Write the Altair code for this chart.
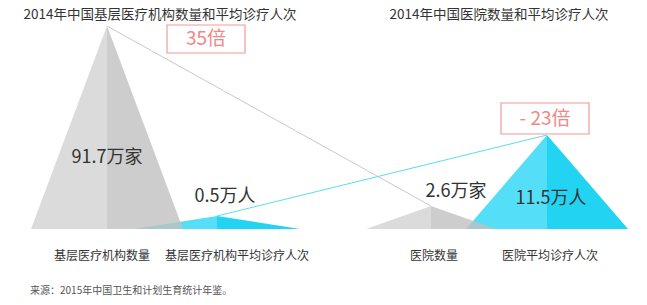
import altair as alt
import pandas as pd

# ---- data ----
categories = ["基层医疗机构数量", "基层医疗机构平均诊疗人次", "医院数量", "医院平均诊疗人次"]
values = [91.7, 0.5, 2.6, 11.5]
units = ["万家", "万人", "万家", "万人"]
drawn_heights = [203, 13, 23, 94]          # visual peak heights of the triangles
panel_titles = ["2014年中国基层医疗机构数量和平均诊疗人次", "2014年中国医院数量和平均诊疗人次"]
ratio_labels = ["35倍", "- 23倍"]
source_note = "来源：2015年中国卫生和计划生育统计年鉴。"

# ---- layout / style ----
W, H = 631, 283
PAD_TOP = 6
centers = [99, 209, 423, 539]
half_widths = [76, 83, 65, 81]
kinds = ["gray", "cyan", "gray", "cyan"]
left_col = {"gray": "#d2d2d2", "cyan": "#55def7"}
right_col = {"gray": "#c0c0c0", "cyan": "#22d4f2"}
value_pos = [(99, 71), (217, 32), (448, 37), (543, 30)]
cat_x = [94, 229, 426, 542]
cat_y = -27
title_pos = [(152, 214), (491, 214)]
boxes = [(159, 237, 176, 204), (493, 581, 95, 126)]
FONT = "Noto Sans CJK SC"

xs = alt.Scale(domain=[0, W])
ys = alt.Scale(domain=[-68, H - 68])

rows = []
for i in range(4):
    c, w, h, k = centers[i], half_widths[i], drawn_heights[i], kinds[i]
    rows += [
        dict(piece=f"{i}L", kind=k, x=c - w, y=0, y0=0, col=left_col[k]),
        dict(piece=f"{i}L", kind=k, x=c, y=h, y0=0, col=left_col[k]),
        dict(piece=f"{i}R", kind=k, x=c, y=h, y0=0, col=right_col[k]),
        dict(piece=f"{i}R", kind=k, x=c + w, y=0, y0=0, col=right_col[k]),
    ]
tri = pd.DataFrame(rows)


def area_layer(kind, opacity):
    return alt.Chart(tri[tri.kind == kind]).mark_area(opacity=opacity).encode(
        x=alt.X("x:Q", scale=xs, axis=None),
        y=alt.Y("y:Q", scale=ys, axis=None),
        y2="y0:Q",
        color=alt.Color("col:N", scale=None),
        detail="piece:N",
    )


cyan_layer = area_layer("cyan", 1.0)
gray_layer = area_layer("gray", 0.8)

line_rows = []
for pair, (a, b), col in [("g", (0, 2), "#c8c8c8"), ("c", (1, 3), "#5adcf2")]:
    for i in (a, b):
        line_rows.append(dict(pair=pair, x=centers[i], y=drawn_heights[i], col=col))
lines = alt.Chart(pd.DataFrame(line_rows)).mark_line(strokeWidth=1).encode(
    x=alt.X("x:Q", scale=xs, axis=None),
    y=alt.Y("y:Q", scale=ys, axis=None),
    color=alt.Color("col:N", scale=None),
    detail="pair:N",
)

box_df = pd.DataFrame([dict(x=b[0], x2=b[1], y=b[2], y2=b[3], t=ratio_labels[j],
                            tx=(b[0] + b[1]) / 2, ty=(b[2] + b[3]) / 2)
                       for j, b in enumerate(boxes)])
box_rect = alt.Chart(box_df).mark_rect(fill="white", fillOpacity=0, stroke="#f49a9a", strokeWidth=1.2).encode(
    x=alt.X("x:Q", scale=xs, axis=None), x2="x2:Q",
    y=alt.Y("y:Q", scale=ys, axis=None), y2="y2:Q",
)
box_text = alt.Chart(box_df).mark_text(font=FONT, fontSize=19, color="#f28585").encode(
    x=alt.X("tx:Q", scale=xs, axis=None),
    y=alt.Y("ty:Q", scale=ys, axis=None),
    text="t:N",
)

val_df = pd.DataFrame(dict(
    x=[p[0] for p in value_pos], y=[p[1] for p in value_pos],
    t=[f"{v}{u}" for v, u in zip(values, units)],
))
val_text = alt.Chart(val_df).mark_text(font=FONT, fontSize=18, color="#333333").encode(
    x=alt.X("x:Q", scale=xs, axis=None),
    y=alt.Y("y:Q", scale=ys, axis=None),
    text="t:N",
)

cat_df = pd.DataFrame(dict(x=cat_x, y=[cat_y] * 4, t=categories))
cat_text = alt.Chart(cat_df).mark_text(font=FONT, fontSize=12, color="#333333").encode(
    x=alt.X("x:Q", scale=xs, axis=None),
    y=alt.Y("y:Q", scale=ys, axis=None),
    text="t:N",
)

title_df = pd.DataFrame(dict(x=[p[0] for p in title_pos], y=[p[1] for p in title_pos], t=panel_titles))
title_text = alt.Chart(title_df).mark_text(font=FONT, fontSize=13.5, color="#333333").encode(
    x=alt.X("x:Q", scale=xs, axis=None),
    y=alt.Y("y:Q", scale=ys, axis=None),
    text="t:N",
)

src_df = pd.DataFrame(dict(x=[22], y=[-62], t=[source_note]))
src_text = alt.Chart(src_df).mark_text(font=FONT, fontSize=10, color="#555555", align="left").encode(
    x=alt.X("x:Q", scale=xs, axis=None),
    y=alt.Y("y:Q", scale=ys, axis=None),
    text="t:N",
)

chart = alt.layer(
    cyan_layer, gray_layer, lines, box_rect, box_text, val_text, cat_text, title_text, src_text
).properties(
    width=W, height=H,
    padding={"top": PAD_TOP, "left": 0, "right": 0, "bottom": 0},
    autosize=alt.AutoSizeParams(type="none"),
).configure_view(stroke=None)

chart.save("out.html", embed_options={"renderer": "svg", "actions": False})
